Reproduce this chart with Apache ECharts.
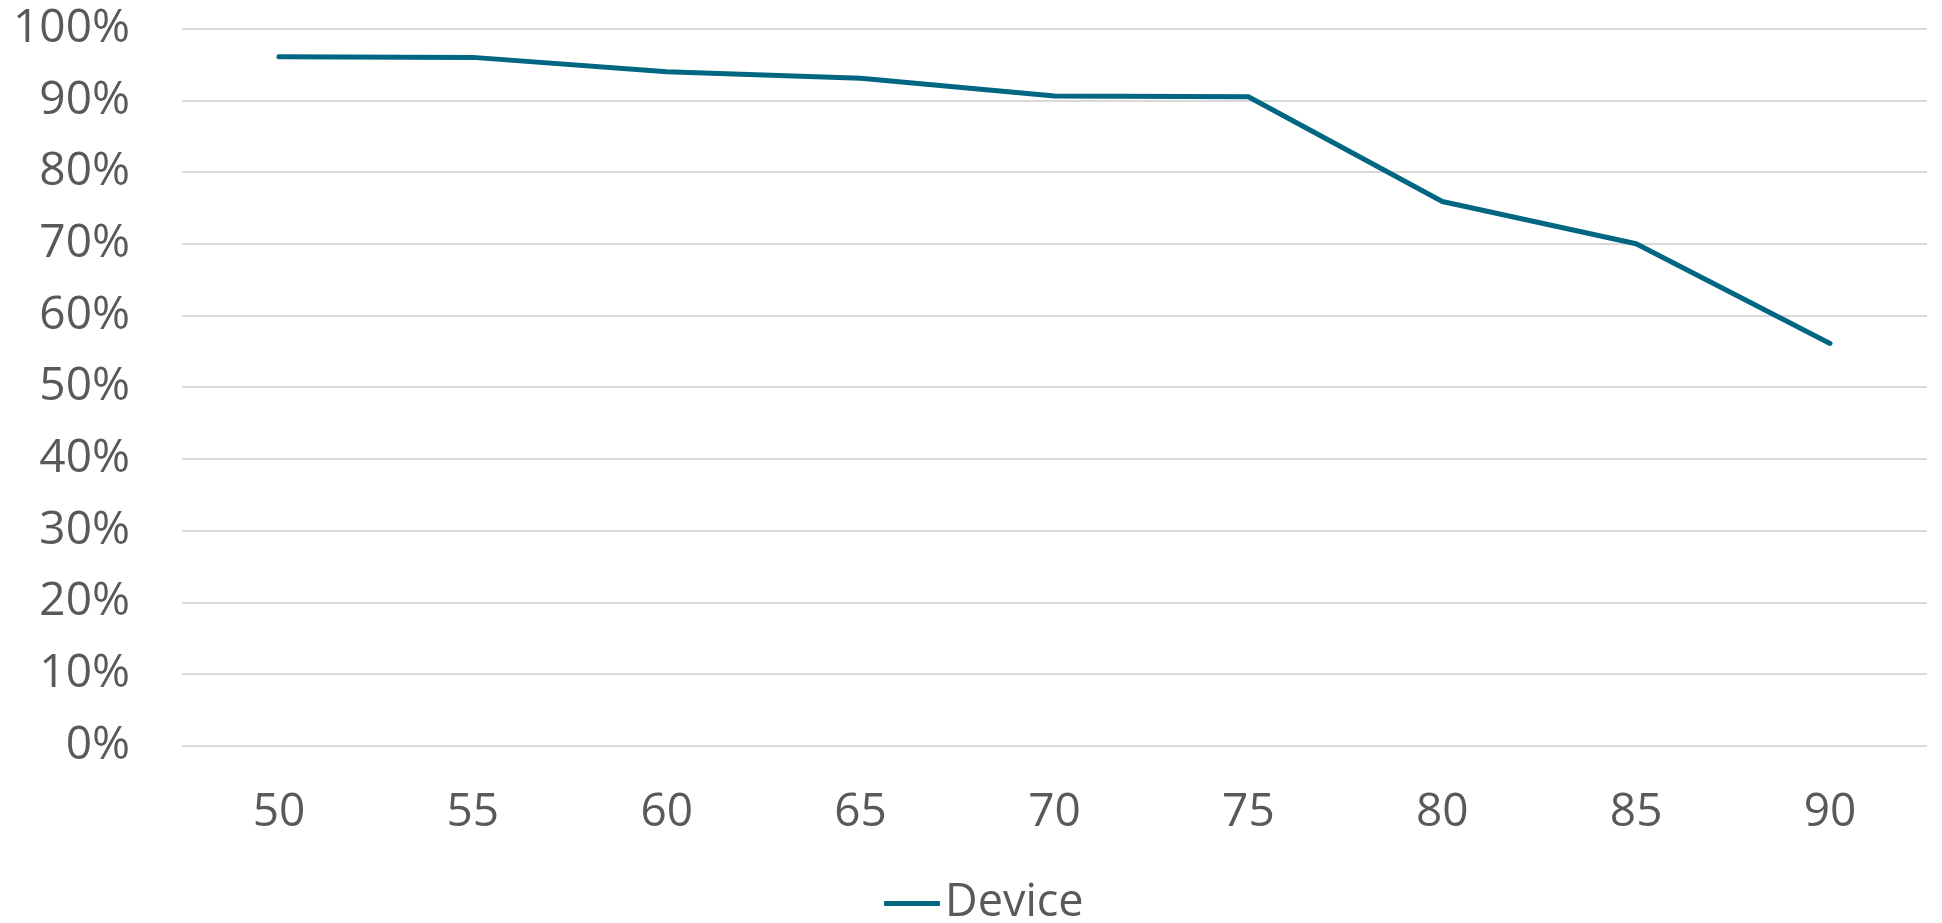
<!DOCTYPE html>
<html>
<head>
<meta charset="utf-8">
<script src="https://cdn.jsdelivr.net/npm/echarts@6/dist/echarts.min.js"></script>
<style>
html,body{margin:0;padding:0;background:#fff;}
#chart{width:1942px;height:923px;}
</style>
</head>
<body>
<div id="chart"></div>
<script>
const categories = ['50','55','60','65','70','75','80','85','90'];
const deviceValues = [96.1, 96.0, 94.0, 93.1, 90.6, 90.5, 75.9, 70.0, 56.1];
const seriesName = 'Device';

const chart = echarts.init(document.getElementById('chart'));
const FONT = '"Open Sans", "Liberation Sans", sans-serif';
chart.setOption({
  animation: false,
  backgroundColor: '#ffffff',
  textStyle: { fontFamily: FONT },
  grid: { left: 182, right: 15, top: 28.7, bottom: 177.3, containLabel: false },
  legend: {
    data: [seriesName],
    left: 879,
    top: 876,
    icon: 'roundRect',
    itemWidth: 56,
    itemHeight: 5,
    itemGap: 10,
    textStyle: { color: '#595959', fontSize: 45, fontFamily: FONT, padding: [0,0,0,0] }
  },
  xAxis: {
    type: 'category',
    data: categories,
    boundaryGap: true,
    axisLine: { show: false },
    axisTick: { show: false },
    axisLabel: { color: '#595959', fontSize: 46, margin: 44, fontFamily: FONT }
  },
  yAxis: {
    type: 'value',
    min: 0,
    max: 100,
    interval: 10,
    axisLine: { show: false },
    axisTick: { show: false },
    splitLine: { lineStyle: { color: '#d9d9d9', width: 2 } },
    axisLabel: { color: '#595959', fontSize: 46, margin: 52, fontFamily: FONT, formatter: '{value}%' }
  },
  series: [{
    name: seriesName,
    type: 'line',
    data: deviceValues,
    symbol: 'none',
    color: '#006682',
    lineStyle: { color: '#006682', width: 5, cap: 'round', join: 'round' }
  }]
});
</script>
</body>
</html>
